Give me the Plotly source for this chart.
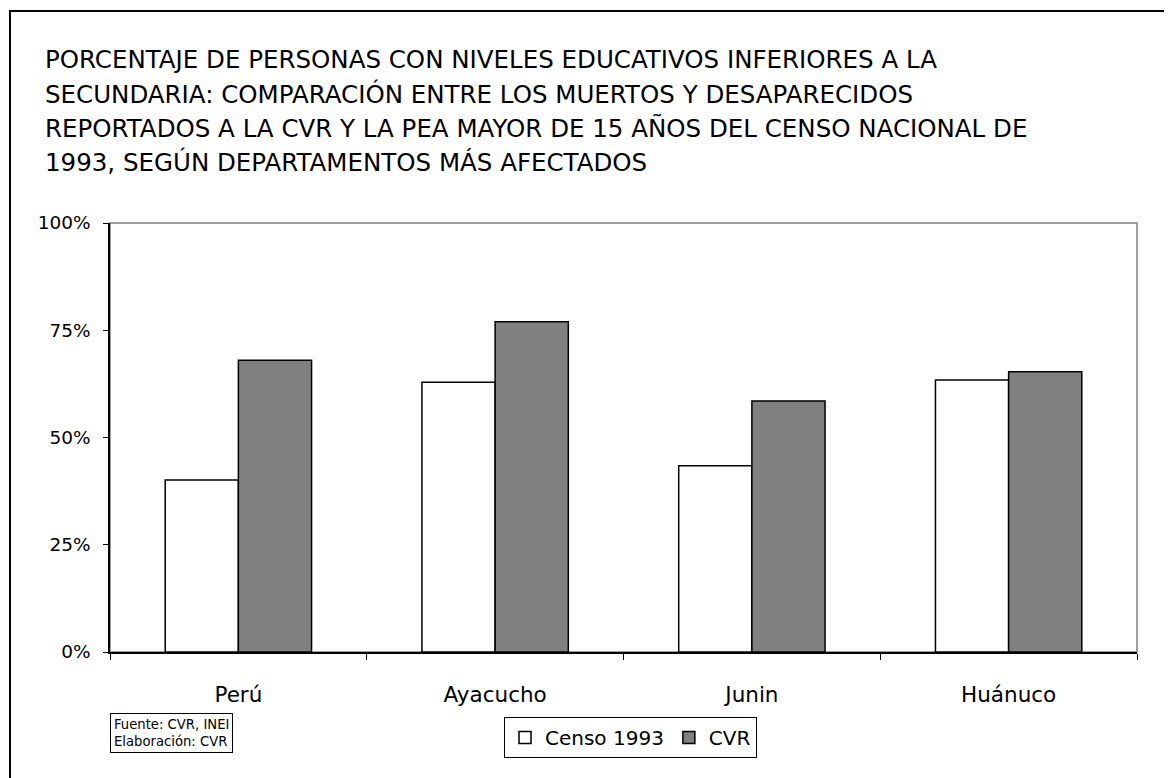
import plotly.graph_objects as go

categories = ["Perú", "Ayacucho", "Junin", "Huánuco"]
censo_1993 = [0.401, 0.629, 0.434, 0.634]
cvr = [0.680, 0.770, 0.585, 0.653]
series_names = ["Censo 1993", "CVR"]
y_ticks = [0, 0.25, 0.5, 0.75, 1.0]
y_tick_labels = ["0%", "25%", "50%", "75%", "100%"]
title_lines = [
    "PORCENTAJE DE PERSONAS CON NIVELES EDUCATIVOS INFERIORES A LA",
    "SECUNDARIA: COMPARACIÓN ENTRE LOS MUERTOS Y DESAPARECIDOS",
    "REPORTADOS A LA CVR Y LA PEA MAYOR DE 15 AÑOS DEL CENSO NACIONAL DE",
    "1993, SEGÚN DEPARTAMENTOS MÁS AFECTADOS",
]
source_text = "Fuente: CVR, INEI<br>Elaboración: CVR"

W, H = 1172, 778
L, R, T, B = 102, 1129, 215, 644
pw, ph = R - L, B - T


def px(x):
    return (x - L) / pw


def py(y):
    return (B - y) / ph


FONT = "DejaVu Sans"

fig = go.Figure()
fig.add_trace(go.Bar(x=categories, y=censo_1993, name=series_names[0],
                     marker=dict(color="white", line=dict(color="black", width=1.5))))
fig.add_trace(go.Bar(x=categories, y=cvr, name=series_names[1],
                     marker=dict(color="#808080", line=dict(color="black", width=1.5))))

annotations = []
title_y = [51, 86, 120, 154]
for line, yy in zip(title_lines, title_y):
    annotations.append(dict(text=line, xref="paper", yref="paper", x=px(35), y=py(yy),
                            xanchor="left", yanchor="middle", showarrow=False,
                            font=dict(family=FONT, size=24.5, color="black")))
annotations.append(dict(text=source_text, xref="paper", yref="paper", x=px(102), y=py(705),
                        xanchor="left", yanchor="top", showarrow=False, align="left",
                        bordercolor="black", borderwidth=1, borderpad=3, bgcolor="white",
                        font=dict(family=FONT, size=13.2, color="black")))

shapes = [
    dict(type="rect", xref="paper", yref="paper", x0=0, y0=0, x1=1, y1=1,
         line=dict(color="#808080", width=1.5), layer="below"),
    dict(type="rect", xref="paper", yref="paper", x0=px(2), y0=py(3), x1=px(1190), y1=py(800),
         line=dict(color="black", width=2), layer="below"),
]

fig.update_layout(
    width=W, height=H,
    margin=dict(l=L, r=W - R, t=T, b=H - B),
    paper_bgcolor="white", plot_bgcolor="white",
    barmode="group", bargap=0.43, bargroupgap=0,
    font=dict(family=FONT, color="black"),
    showlegend=True,
    legend=dict(orientation="h", x=px(496), y=py(709), xanchor="left", yanchor="top",
                bordercolor="black", borderwidth=1, bgcolor="white",
                font=dict(family=FONT, size=20, color="black"),
                itemwidth=30, tracegroupgap=0),
    annotations=annotations,
    shapes=shapes,
)
fig.update_xaxes(showline=True, linecolor="black", linewidth=1.5,
                 ticks="outside", tickson="boundaries", ticklen=6, tickcolor="black", tickwidth=1,
                 tickfont=dict(family=FONT, size=21.5, color="black"),
                 ticklabelstandoff=22, showgrid=False)
fig.update_yaxes(range=[0, 1], tickvals=y_ticks, ticktext=y_tick_labels,
                 showline=True, linecolor="black", linewidth=1.5,
                 ticks="outside", ticklen=5, tickcolor="black", tickwidth=1,
                 tickfont=dict(family=FONT, size=18.5, color="black"),
                 ticklabelstandoff=9, showgrid=False, zeroline=False)

fig.write_html("out.html")
